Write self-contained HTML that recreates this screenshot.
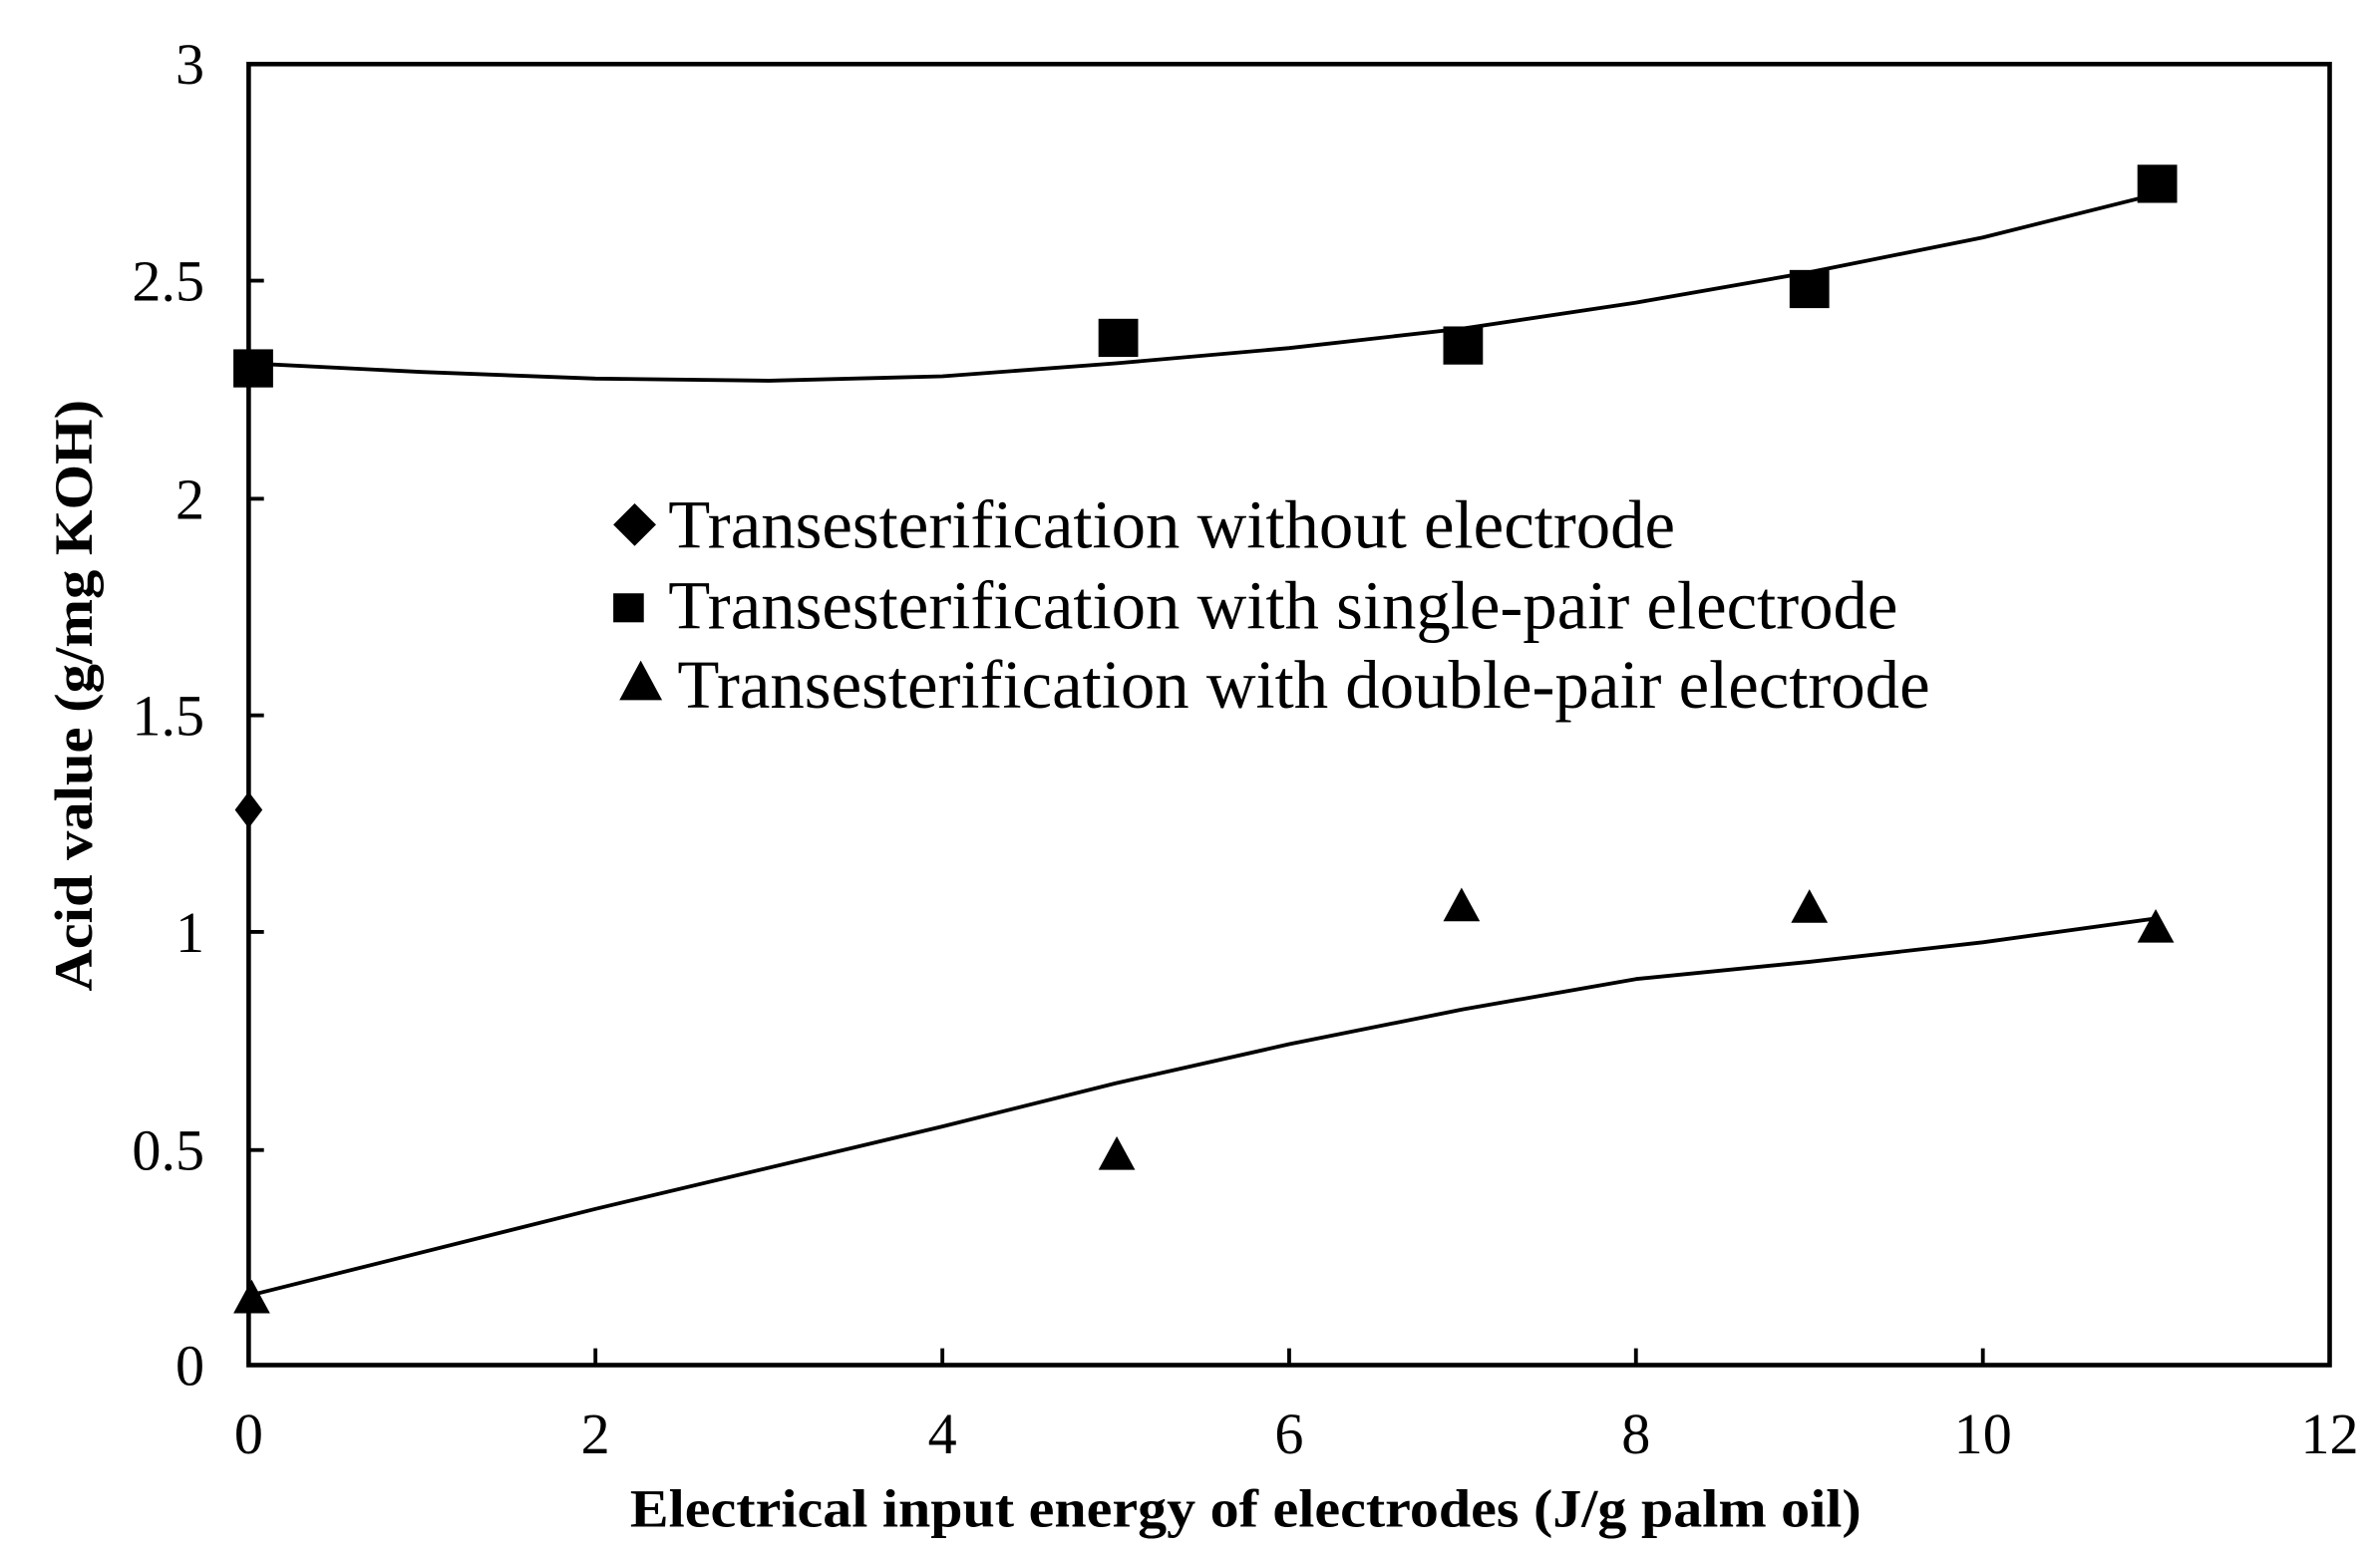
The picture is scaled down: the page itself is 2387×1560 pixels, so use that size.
<!DOCTYPE html>
<html><head><meta charset="utf-8"><style>html,body{margin:0;padding:0;background:#fff}svg{display:block}</style></head>
<body>
<svg width="2387" height="1560" viewBox="0 0 1560 1019.5" xmlns="http://www.w3.org/2000/svg" font-family="Liberation Serif, serif">
<rect width="1560" height="1019.5" fill="#fff"/>
<rect x="163" y="42" width="1364" height="853" fill="none" stroke="#000" stroke-width="3"/>
<g stroke="#000" stroke-width="2.5">
<line x1="163" y1="184" x2="173" y2="184"/><line x1="163" y1="327" x2="173" y2="327"/>
<line x1="163" y1="469" x2="173" y2="469"/><line x1="163" y1="611" x2="173" y2="611"/>
<line x1="163" y1="754" x2="173" y2="754"/>
<line x1="390.3" y1="895" x2="390.3" y2="884"/><line x1="617.7" y1="895" x2="617.7" y2="884"/>
<line x1="845" y1="895" x2="845" y2="884"/><line x1="1072.3" y1="895" x2="1072.3" y2="884"/>
<line x1="1299.7" y1="895" x2="1299.7" y2="884"/>
</g>
<g font-size="38" text-anchor="end" fill="#000">
<text x="134" y="55">3</text><text x="134" y="197">2.5</text><text x="134" y="340">2</text>
<text x="134" y="482">1.5</text><text x="134" y="624">1</text><text x="134" y="767">0.5</text>
<text x="134" y="908">0</text>
</g>
<g font-size="38" text-anchor="middle" fill="#000">
<text x="163" y="953">0</text><text x="390.3" y="953">2</text><text x="617.7" y="953">4</text>
<text x="845" y="953">6</text><text x="1072.3" y="953">8</text><text x="1299.7" y="953">10</text>
<text x="1527" y="953">12</text>
</g>
<text x="413" y="1001" font-size="35" font-weight="bold" textLength="807" lengthAdjust="spacingAndGlyphs">Electrical input  energy of electrodes  (J/g palm oil)</text>
<text transform="translate(60,650) rotate(-90)" font-size="35" font-weight="bold" textLength="388" lengthAdjust="spacingAndGlyphs">Acid value  (g/mg KOH)</text>
<polyline fill="none" stroke="#000" stroke-width="2.5" stroke-linejoin="round" points="163,238.2 276.7,243.9 390.3,248.2 504,249.6 617.7,246.7 731.3,238.2 845,228.2 958.7,215.4 1072.3,198.4 1186,178.5 1299.7,155.7 1413.3,127.3"/>
<polyline fill="none" stroke="#000" stroke-width="2.5" stroke-linejoin="round" points="163,849.5 390.3,792.6 617.7,738.6 731.3,710.2 845,684.6 958.7,661.8 1072.3,641.9 1186,630.6 1299.7,617.8 1413.3,602.1"/>
<g fill="#000">
<rect x="153" y="229" width="26" height="25"/>
<rect x="720" y="209" width="26" height="25"/>
<rect x="946" y="214" width="26" height="25"/>
<rect x="1173" y="177" width="26" height="25"/>
<rect x="1401" y="108" width="26" height="25"/>
<polygon points="163,519 172,531 163,543 154,531"/>
<polygon points="165,839 177,861 153,861"/>
<polygon points="732,745 744,767 720,767"/>
<polygon points="958,582 970,604 946,604"/>
<polygon points="1186,583 1198,605 1174,605"/>
<polygon points="1413,596 1425,618 1401,618"/>
<polygon points="416,330 430,344 416,358 402,344"/>
<rect x="402" y="389" width="20" height="19"/>
<polygon points="420,433 434,459 406,459"/>
</g>
<g font-size="45" fill="#000">
<text x="438" y="359" textLength="660" lengthAdjust="spacingAndGlyphs">Transesterification without electrode</text>
<text x="438" y="412" textLength="806" lengthAdjust="spacingAndGlyphs">Transesterification with single-pair electrode</text>
<text x="444" y="464" textLength="821" lengthAdjust="spacingAndGlyphs">Transesterification with double-pair electrode</text>
</g>
</svg>
</body></html>
